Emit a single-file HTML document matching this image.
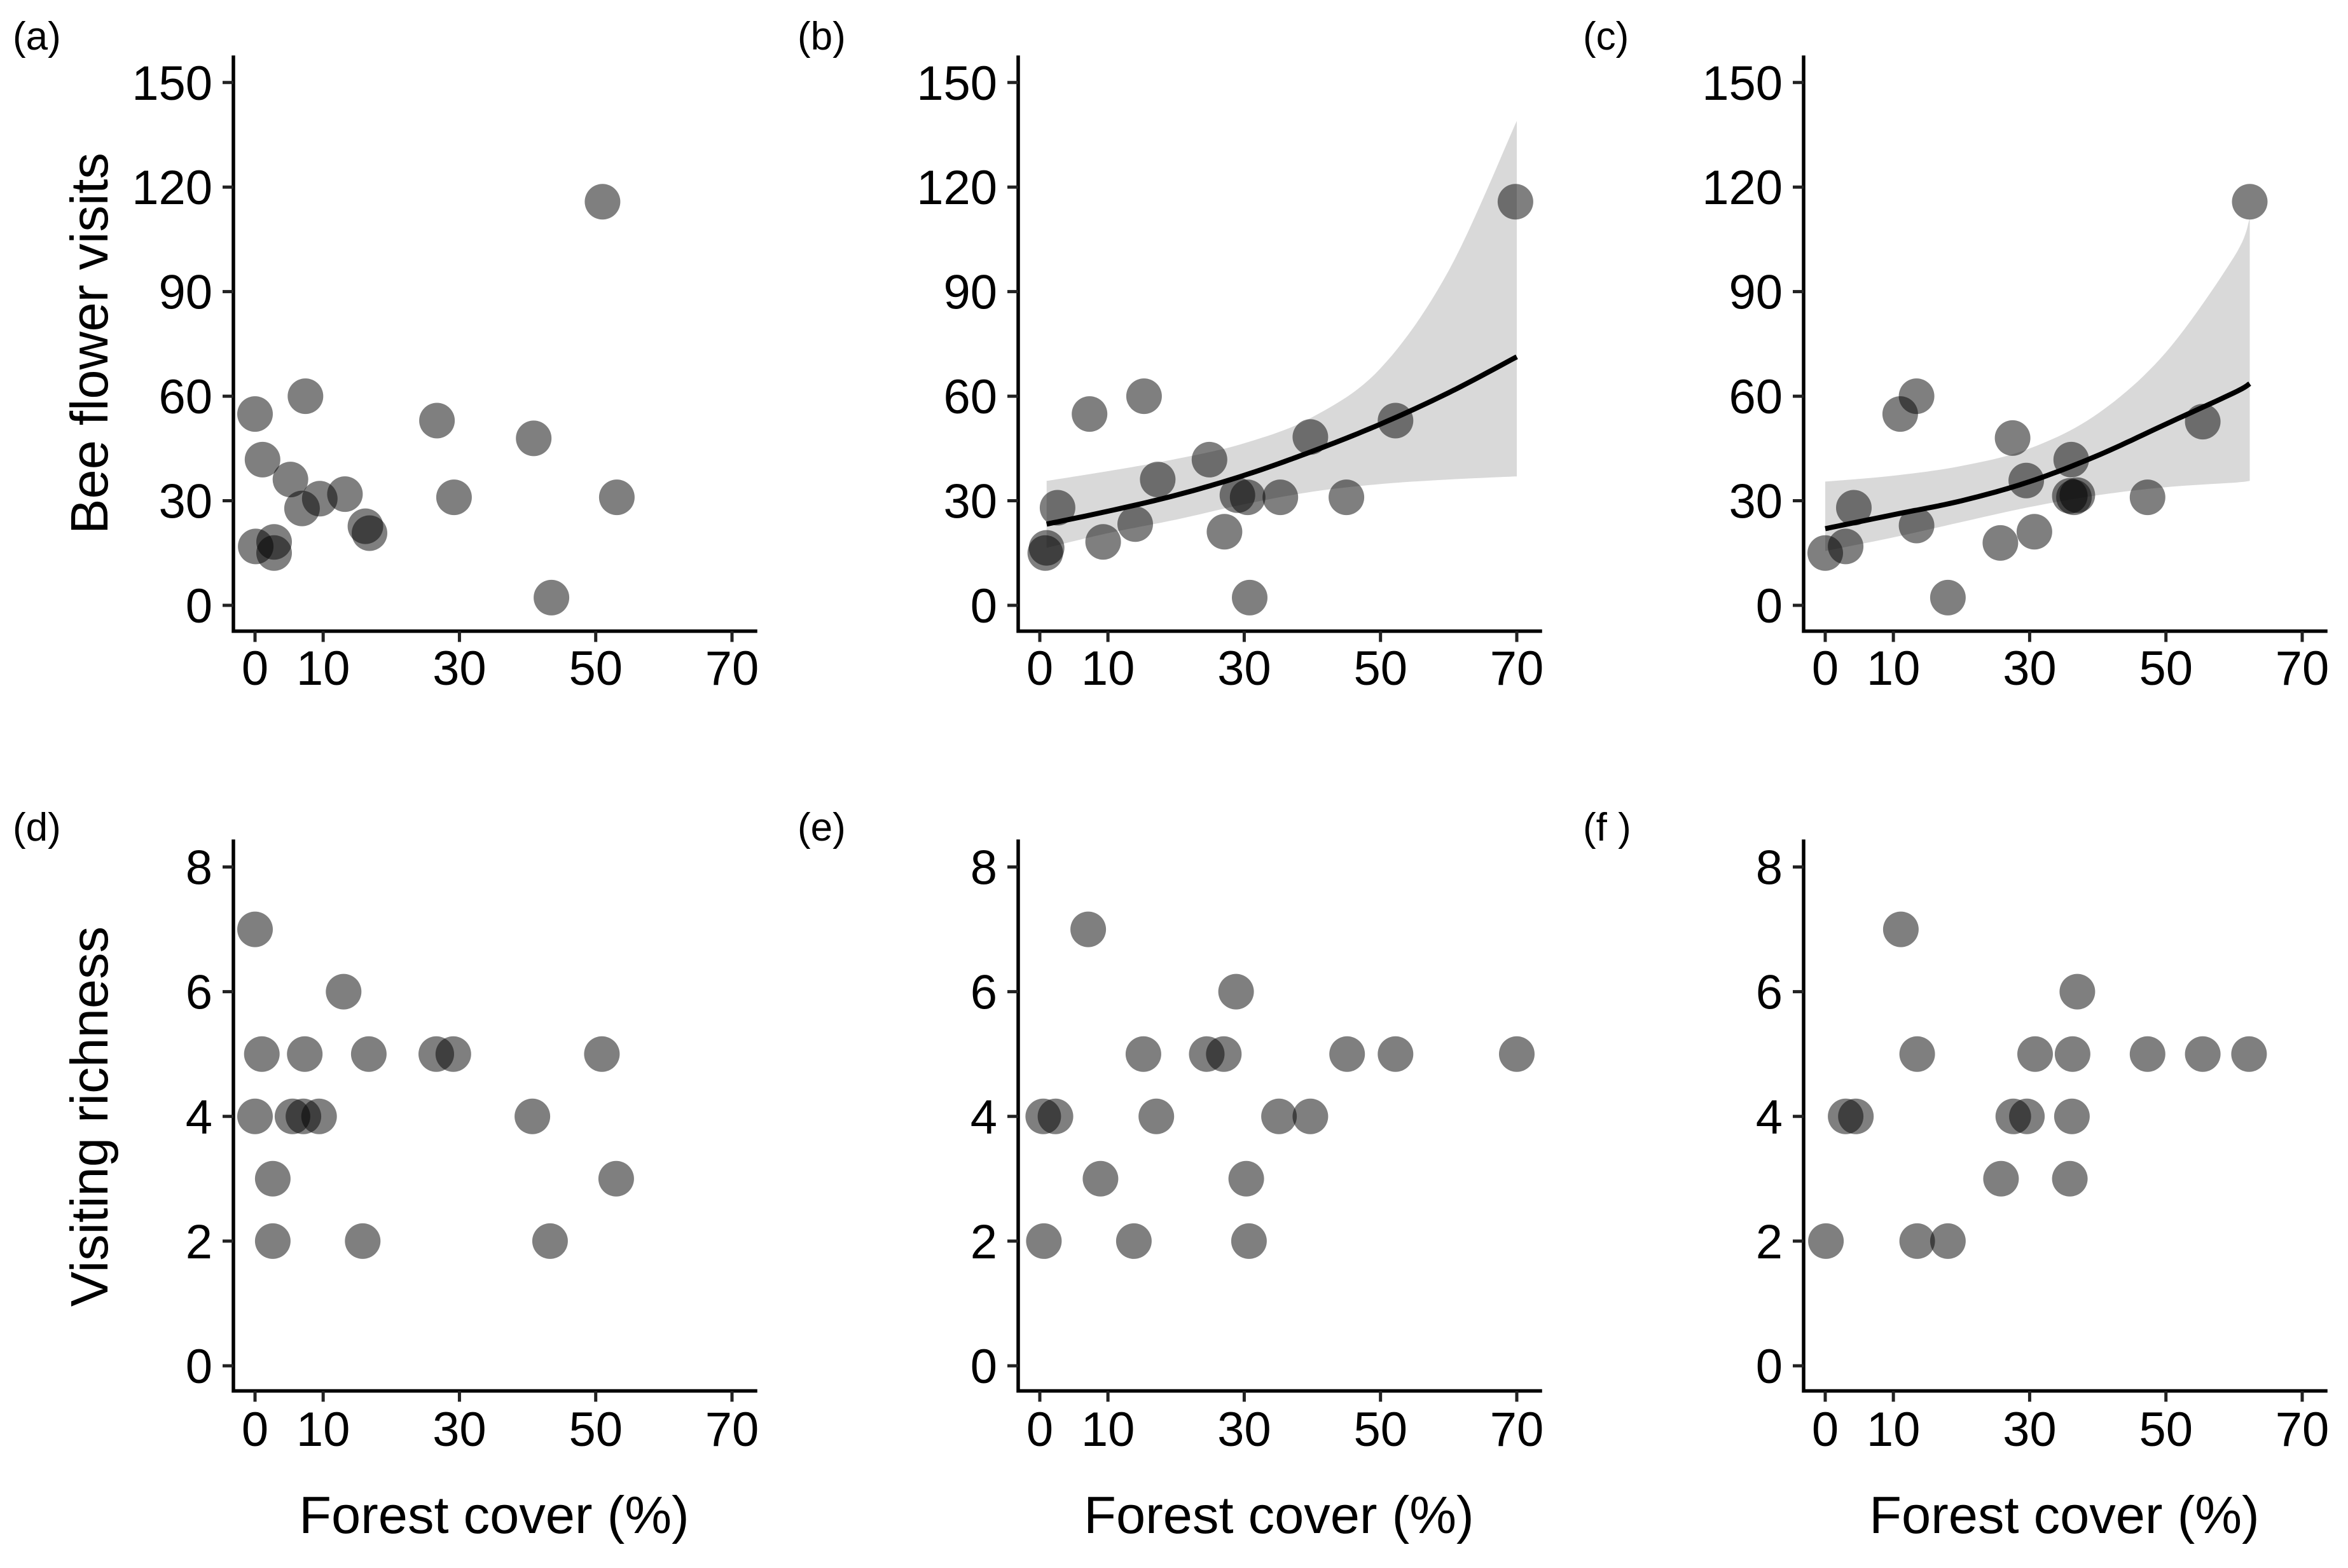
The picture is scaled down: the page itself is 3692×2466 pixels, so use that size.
<!DOCTYPE html>
<html>
<head>
<meta charset="utf-8">
<style>
  html, body { margin:0; padding:0; background:#fff; }
  svg { display:block; }
  text { font-family: "Liberation Sans", Arial, sans-serif; fill:#000; }
</style>
</head>
<body>
<svg id="fig" xmlns="http://www.w3.org/2000/svg" width="3692" height="2466" viewBox="0 0 3692 2466"></svg>
<script>
// ---- data ----
const xTicks = [0, 10, 30, 50, 70];
const visitTicks = [0, 30, 60, 90, 120, 150];
const richTicks = [0, 2, 4, 6, 8];
const panelLabels = ["(a)", "(b)", "(c)", "(d)", "(e)", "(f )"];

const aX = [0, 1.1, 7.4, 5.2, 6.9, 9.5, 13.2, 0.1, 2.8, 2.8, 16.2, 16.8, 26.7, 29.2, 40.9, 51, 53.1, 43.5];
const aY = [54.9, 41.8, 60, 36.1, 27.8, 30.6, 31.9, 16.9, 18.2, 15, 22.7, 20.7, 53, 31, 47.9, 115.8, 31, 2.2];

const bX = [1.0, 0.8, 2.6, 7.3, 9.3, 15.3, 14, 17.3, 24.9, 27.1, 29, 30.5, 30.8, 35.3, 39.7, 45, 52.2, 69.8];
const bY = [16.5, 15, 28, 54.9, 18.2, 60, 23.3, 36.1, 41.8, 21.1, 31.6, 31, 2.2, 31, 48.3, 31, 53, 115.8];

const cX = [0, 3, 4.2, 11, 13.4, 13.4, 18, 25.7, 27.5, 29.5, 30.7, 36.1, 35.9, 37, 36.5, 47.3, 55.4, 62.3];
const cY = [15, 16.9, 28, 54.9, 60, 22.9, 2.2, 17.9, 48, 35.8, 21.1, 41.8, 31.4, 31.6, 31, 31, 52.7, 115.8];

const dX = [0, 13, 1, 7.3, 16.7, 26.6, 29.1, 50.9, 0, 5.5, 7.1, 9.4, 40.7, 2.6, 53, 2.6, 15.8, 43.3];
const dY = [7, 6, 5, 5, 5, 5, 5, 5, 4, 4, 4, 4, 4, 3, 3, 2, 2, 2];

const eX = [7.1, 28.8, 15.2, 24.5, 27, 45.1, 52.2, 70, 0.5, 2.3, 17.1, 35.1, 39.7, 8.9, 30.3, 0.6, 13.8, 30.7];
const eY = [7, 6, 5, 5, 5, 5, 5, 5, 4, 4, 4, 4, 4, 3, 3, 2, 2, 2];

const fX = [11.1, 37, 13.5, 30.8, 36.3, 47.3, 55.4, 62.2, 3, 4.5, 27.6, 29.6, 36.2, 25.8, 35.9, 0.1, 13.5, 18];
const fY = [7, 6, 5, 5, 5, 5, 5, 5, 4, 4, 4, 4, 4, 3, 3, 2, 2, 2];

const bCurveX = [1, 10, 20, 30, 40, 50, 60, 70];
const bFit    = [23.3, 27, 31.6, 37.3, 44.2, 52, 61, 71.3];
const bUpper  = [35.7, 38.5, 42, 46.5, 54, 68, 96, 139];
const bLower  = [16.5, 20.7, 24.6, 29, 32.6, 34.8, 36.1, 37];

const cCurveX = [0, 10, 20, 30, 40, 50, 60, 62.3];
const cFit    = [22, 26, 30, 35.5, 43, 52, 61, 63.6];
const cUpper  = [35.5, 37.2, 40, 45, 55, 72.6, 100, 111];
const cLower  = [15.6, 19.5, 23.9, 28.2, 31.6, 33.9, 35.2, 35.7];

// ---- layout ----
const NS = "http://www.w3.org/2000/svg";
const svg = document.getElementById("fig");
const colOff = [0, 1234, 2469];
const rows = [
  { top: 90, axisY: 992.6, y0: 952, yMaxPix: 129.8, yMax: 150, ticks: visitTicks, tickLabelY: 1049 },
  { top: 1323, axisY: 2187.5, y0: 2148, yMaxPix: 1363.5, yMax: 8, ticks: richTicks, tickLabelY: 2246 }
];
function el(tag, attrs, parent) {
  const e = document.createElementNS(NS, tag);
  for (const k in attrs) e.setAttribute(k, attrs[k]);
  (parent || svg).appendChild(e);
  return e;
}
function xScale(col, v) { return 401 + colOff[col] + v * 750 / 70; }
function yScale(row, v) { const r = rows[row]; return r.y0 - v * (r.y0 - r.yMaxPix) / r.yMax; }

// Catmull-Rom smoothing through pixel points
function smoothPts(pts) {
  const out = [];
  for (let i = 0; i < pts.length - 1; i++) {
    const p0 = pts[Math.max(0, i - 1)], p1 = pts[i], p2 = pts[i + 1], p3 = pts[Math.min(pts.length - 1, i + 2)];
    for (let s = 0; s < 12; s++) {
      const t = s / 12, t2 = t * t, t3 = t2 * t;
      out.push([
        0.5 * (2 * p1[0] + (-p0[0] + p2[0]) * t + (2 * p0[0] - 5 * p1[0] + 4 * p2[0] - p3[0]) * t2 + (-p0[0] + 3 * p1[0] - 3 * p2[0] + p3[0]) * t3),
        0.5 * (2 * p1[1] + (-p0[1] + p2[1]) * t + (2 * p0[1] - 5 * p1[1] + 4 * p2[1] - p3[1]) * t2 + (-p0[1] + 3 * p1[1] - 3 * p2[1] + p3[1]) * t3)
      ]);
    }
  }
  out.push(pts[pts.length - 1]);
  return out;
}
function toPath(pts, start) {
  let d = "";
  pts.forEach(function (p, i) { d += ((i === 0 && start) ? "M" : "L") + p[0].toFixed(1) + "," + p[1].toFixed(1); });
  return d;
}

function drawBand(col, row, xs, up, lo, fit, name) {
  const g = el("g", {});
  
  
  const upP = smoothPts(xs.map(function (x, i) { return [xScale(col, x), yScale(row, up[i])]; }));
  const loP = smoothPts(xs.map(function (x, i) { return [xScale(col, x), yScale(row, lo[i])]; })).reverse();
  const band = el("path", { d: toPath(upP, true) + toPath(loP, false) + "Z", fill: "#d9d9d9", stroke: "none" }, g);
  
  
  const fitP = smoothPts(xs.map(function (x, i) { return [xScale(col, x), yScale(row, fit[i])]; }));
  const line = el("path", { d: toPath(fitP, true), fill: "none", stroke: "#000", "stroke-width": 8, "stroke-linejoin": "round" }, g);
  
  
}

function drawPanel(idx, name) {
  const col = idx % 3, row = Math.floor(idx / 3);
  const r = rows[row];
  const g = el("g", {});
  
  
  const yAxisX = 367 + colOff[col];
  const lab = el("text", { x: 20 + colOff[col], y: row === 0 ? 78 : 1322, "font-size": 62 }, g);
  lab.textContent = panelLabels[idx];
  
  
  const ax = el("path", { d: "M" + yAxisX + "," + r.top + "L" + yAxisX + "," + r.axisY + "L" + (1188 + colOff[col]) + "," + r.axisY, fill: "none", stroke: "#000", "stroke-width": 5.5, "stroke-linecap": "square" }, g);
  
  
  r.ticks.forEach(function (t) {
    const yy = yScale(row, t);
    el("line", { x1: yAxisX - 17, x2: yAxisX, y1: yy, y2: yy, stroke: "#222", "stroke-width": 5 }, g);
    const tl = el("text", { x: yAxisX - 33, y: yy + 27, "font-size": 76, "text-anchor": "end" }, g);
    tl.textContent = t;
    
    
  });
  xTicks.forEach(function (t) {
    const xx = xScale(col, t);
    el("line", { x1: xx, x2: xx, y1: r.axisY, y2: r.axisY + 17, stroke: "#222", "stroke-width": 5 }, g);
    const tl = el("text", { x: xx, y: r.tickLabelY + 28, "font-size": 76, "text-anchor": "middle" }, g);
    tl.textContent = t;
    
    
  });
  return { col: col, row: row, g: g };
}

function drawPoints(p, xs, ys, name) {
  for (let i = 0; i < xs.length; i++) {
    const c = el("circle", { cx: xScale(p.col, xs[i]).toFixed(1), cy: yScale(p.row, ys[i]).toFixed(1), r: 28, fill: "rgba(0,0,0,0.5)" }, p.g);
    
    
  }
}

const pa = drawPanel(0, "panel-a");
drawPoints(pa, aX, aY, "a");
const pb = drawPanel(1, "panel-b");
drawBand(1, 0, bCurveX, bUpper, bLower, bFit, "b");
svg.appendChild(pb.g);
drawPoints(pb, bX, bY, "b");
const pc = drawPanel(2, "panel-c");
drawBand(2, 0, cCurveX, cUpper, cLower, cFit, "c");
svg.appendChild(pc.g);
drawPoints(pc, cX, cY, "c");
const pd = drawPanel(3, "panel-d");
drawPoints(pd, dX, dY, "d");
const pe = drawPanel(4, "panel-e");
drawPoints(pe, eX, eY, "e");
const pf = drawPanel(5, "panel-f");
drawPoints(pf, fX, fY, "f");

const yt1 = el("text", { x: 0, y: 0, "font-size": 83, "text-anchor": "middle", transform: "translate(169,540) rotate(-90)" });
yt1.textContent = "Bee flower visits";


const yt2 = el("text", { x: 0, y: 0, "font-size": 83, "text-anchor": "middle", transform: "translate(169,1756) rotate(-90)" });
yt2.textContent = "Visiting richness";


colOff.forEach(function (o) {
  const xt = el("text", { x: 777 + o, y: 2411, "font-size": 83, "text-anchor": "middle" });
  xt.textContent = "Forest cover (%)";
  
  
});
</script>
</body>
</html>
